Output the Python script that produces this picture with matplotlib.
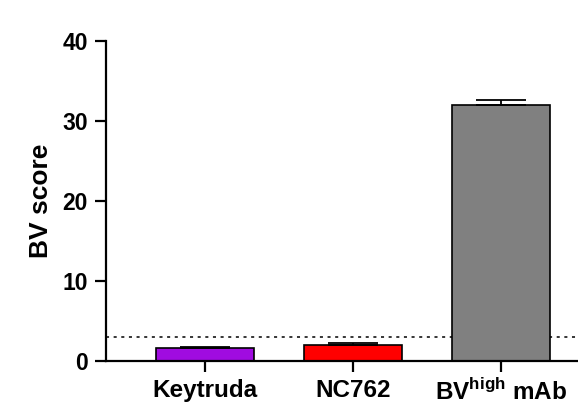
import matplotlib
matplotlib.use("Agg")
import matplotlib.pyplot as plt

plt.rcParams['font.family'] = ['Liberation Sans', 'DejaVu Sans']
plt.rcParams['font.weight'] = 'bold'
plt.rcParams['mathtext.fontset'] = 'custom'
plt.rcParams['mathtext.rm'] = 'Liberation Sans'

groups = ["Keytruda", "NC762", r"BV$^{\mathrm{high}}$ mAb"]
scores = [1.6, 2.05, 32.0]
errors = [0.2, 0.15, 0.6]
colors = ["#A00CE0", "#FF0000", "#808080"]
threshold = 3.0

fig = plt.figure(figsize=(5.78, 4.11), dpi=100)
ax = fig.add_axes([0.1834, 0.1217, 0.8166, 0.7787])

x = range(len(groups))
ax.bar(x, scores, width=0.66, color=colors, edgecolor="black", linewidth=1.2, zorder=2)
ax.errorbar(x, scores, yerr=[[0] * len(errors), errors], fmt="none", ecolor="black",
            elinewidth=1.3, capsize=18, capthick=1.3, zorder=3)
ax.axhline(threshold, color="black", linestyle=(0, (2, 3)), linewidth=1.1, zorder=1)

ax.set_xlim(-0.67, 2.52)
ax.set_ylim(0, 40)
ax.set_yticks([0, 10, 20, 30, 40])
ax.set_xticks(list(x))
ax.set_xticklabels(groups, fontsize=17.5)
ax.set_ylabel("BV score", fontsize=19, fontweight="bold", labelpad=7)

for s in ["top", "right"]:
    ax.spines[s].set_visible(False)
for s in ["left", "bottom"]:
    ax.spines[s].set_linewidth(1.6)
ax.tick_params(axis="both", width=1.6, length=8)
ax.tick_params(axis="y", pad=5, labelsize=16.5)
ax.tick_params(axis="x", pad=5)

fig.savefig("out.png", dpi=100)
